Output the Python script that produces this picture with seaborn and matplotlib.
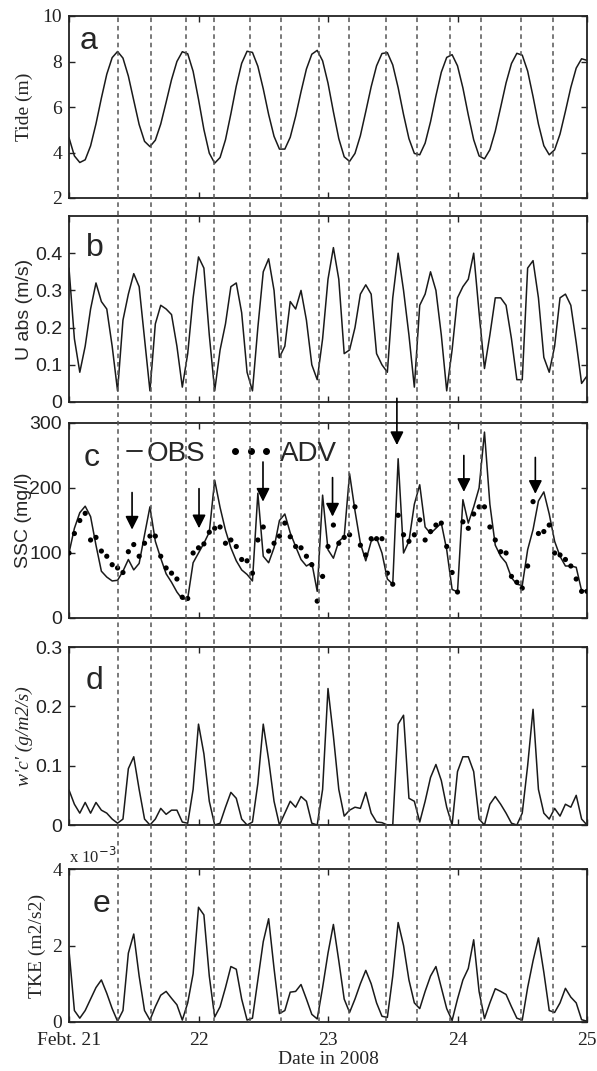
import numpy as np
import matplotlib
matplotlib.use("Agg")
import matplotlib.pyplot as plt
from matplotlib.lines import Line2D
import seaborn as sns

# ---------------- data ----------------
hours = np.arange(0, 97)  # hourly samples from Feb 21 00:00
days = 21 + hours / 24.0

tide = [4.65, 3.85, 3.56, 3.68, 4.29, 5.26, 6.39, 7.44, 8.17, 8.44,
        8.15, 7.36, 6.29, 5.23, 4.49, 4.26, 4.54, 5.25, 6.21, 7.20,
        8.00, 8.43, 8.34, 7.57, 6.34, 5.01, 3.97, 3.53, 3.78, 4.56,
        5.70, 6.92, 7.92, 8.45, 8.40, 7.79, 6.80, 5.67, 4.71, 4.15,
        4.15, 4.67, 5.59, 6.67, 7.67, 8.32, 8.49, 8.03, 7.05, 5.79,
        4.61, 3.81, 3.61, 3.96, 4.74, 5.80, 6.89, 7.81, 8.35, 8.39,
        7.85, 6.85, 5.67, 4.61, 3.96, 3.90, 4.41, 5.35, 6.49, 7.53,
        8.18, 8.30, 7.81, 6.84, 5.65, 4.56, 3.85, 3.72, 4.12, 4.94,
        5.99, 7.06, 7.91, 8.36, 8.28, 7.58, 6.46, 5.25, 4.30, 3.90,
        4.12, 4.81, 5.81, 6.86, 7.71, 8.12, 8.05]

uabs = [0.36, 0.17, 0.08, 0.15, 0.25, 0.32, 0.27, 0.25, 0.15, 0.03,
        0.22, 0.29, 0.345, 0.31, 0.17, 0.03, 0.21, 0.26, 0.25, 0.235,
        0.15, 0.04, 0.13, 0.28, 0.39, 0.36, 0.18, 0.03, 0.14, 0.21,
        0.31, 0.32, 0.24, 0.08, 0.03, 0.20, 0.35, 0.385, 0.30, 0.12,
        0.15, 0.27, 0.25, 0.30, 0.22, 0.10, 0.06, 0.17, 0.33, 0.415,
        0.33, 0.13, 0.14, 0.20, 0.29, 0.315, 0.29, 0.13, 0.10, 0.08,
        0.28, 0.40, 0.30, 0.18, 0.04, 0.26, 0.29, 0.35, 0.30, 0.18,
        0.03, 0.14, 0.28, 0.31, 0.33, 0.40, 0.24, 0.09, 0.18, 0.28,
        0.28, 0.26, 0.17, 0.06, 0.06, 0.36, 0.38, 0.28, 0.12, 0.08,
        0.15, 0.28, 0.29, 0.26, 0.16, 0.05, 0.07]

ssc_obs = [100, 138, 162, 172, 156, 112, 72, 63, 57, 58,
           72, 90, 74, 84, 128, 171, 118, 92, 68, 55,
           40, 29, 30, 85, 100, 115, 132, 212, 170, 135,
           108, 88, 74, 67, 57, 192, 95, 85, 108, 150,
           160, 131, 110, 90, 80, 85, 41, 189, 105, 92,
           118, 125, 222, 165, 115, 88, 118, 123, 100, 60,
           52, 245, 100, 118, 175, 205, 140, 130, 138, 146,
           105, 44, 40, 182, 146, 171, 200, 286, 175, 112,
           95, 85, 62, 52, 50, 105, 136, 180, 194, 160,
           118, 95, 80, 80, 78, 42, 42]

ssc_adv = [100, 130, 150, 161, 120, 124, 103, 95, 82, 77,
           70, 102, 113, 95, 115, 126, 126, 95, 77, 69,
           60, 32, 30, 100, 108, 114, 132, 138, 140, 115,
           120, 110, 90, 88, 69, 120, 140, 103, 115, 126,
           146, 125, 110, 108, 95, 82, 26, 64, 110, 143,
           115, 124, 128, 171, 112, 97, 122, 122, 122, 69,
           52, 158, 128, 118, 128, 151, 120, 133, 143, 146,
           110, 70, 40, 148, 138, 160, 171, 171, 140, 120,
           102, 100, 64, 55, 46, 80, 179, 130, 133, 143,
           100, 97, 90, 80, 60, 41, 41]

wc = [0.059, 0.035, 0.02, 0.038, 0.02, 0.038, 0.025, 0.02, 0.01, 0.003,
      0.01, 0.095, 0.115, 0.06, 0.01, 0.0, 0.01, 0.028, 0.018, 0.025,
      0.025, 0.005, 0.003, 0.06, 0.17, 0.12, 0.04, 0.0, 0.003, 0.03,
      0.055, 0.045, 0.01, 0.0, 0.005, 0.07, 0.17, 0.11, 0.04, 0.0,
      0.02, 0.04, 0.03, 0.048, 0.04, 0.003, 0.0, 0.06, 0.23, 0.15,
      0.06, 0.015, 0.025, 0.03, 0.028, 0.055, 0.02, 0.005, 0.004, 0.0,
      0.0, 0.17, 0.185, 0.045, 0.04, 0.005, 0.04, 0.08, 0.102, 0.075,
      0.03, 0.0, 0.09, 0.115, 0.115, 0.09, 0.01, 0.0, 0.035, 0.048,
      0.035, 0.02, 0.003, 0.0, 0.02, 0.10, 0.195, 0.06, 0.02, 0.01,
      0.028, 0.015, 0.035, 0.03, 0.05, 0.01, 0.0]

tke = [1.87, 0.3, 0.1, 0.3, 0.6, 0.9, 1.1, 0.75, 0.35, 0.02,
       0.3, 1.8, 2.3, 1.2, 0.3, 0.05, 0.4, 0.7, 0.8, 0.62,
       0.45, 0.05, 0.5, 1.26, 3.0, 2.8, 1.2, 0.13, 0.4, 0.9,
       1.45, 1.38, 0.6, 0.05, 0.1, 1.1, 2.1, 2.7, 1.4, 0.22,
       0.3, 0.78, 0.8, 0.98, 0.6, 0.2, 0.08, 0.9, 1.8, 2.55,
       1.6, 0.6, 0.25, 0.6, 1.0, 1.35, 1.0, 0.5, 0.15, 0.12,
       1.2, 2.6, 2.0, 1.1, 0.5, 0.35, 0.8, 1.2, 1.45, 0.9,
       0.35, 0.04, 0.6, 1.1, 1.4, 2.15, 0.8, 0.09, 0.5, 0.87,
       0.8, 0.72, 0.4, 0.1, 0.05, 0.9, 1.6, 2.2, 1.3, 0.3,
       0.25, 0.5, 0.88, 0.65, 0.5, 0.06, 0.02]  # x 10^-3

# high / low water times (dashed lines)
event_days = [21.382, 21.630, 21.905, 22.118, 22.398, 22.634, 22.928,
              23.160, 23.445, 23.686, 23.945, 24.183, 24.491, 24.735]

# arrows in panel c
arrow_days = [21.487, 22.004, 22.498, 23.035, 23.532, 24.049, 24.601]
arrow_tail = [193, 199, 240, 216, 338, 250, 247]
arrow_head = [136, 138, 179, 156, 266, 194, 191]

xtick_vals = [21, 22, 23, 24, 25]
xtick_labels = ["Febt. 21", "22", "23", "24", "25"]

panel_letters = ["a", "b", "c", "d", "e"]
ylabels = ["Tide (m)", "U abs (m/s)", "SSC (mg/l)", "w'c' (g/m2/s)", "TKE (m2/s2)"]
yticks = [[2, 4, 6, 8, 10], [0, 0.1, 0.2, 0.3, 0.4], [0, 100, 200, 300],
          [0, 0.1, 0.2, 0.3], [0, 2, 4]]
ytick_labels = [["2", "4", "6", "8", "10"], ["0", "0.1", "0.2", "0.3", "0.4"],
                ["0", "100", "200", "300"], ["0", "0.1", "0.2", "0.3"], ["0", "2", "4"]]
ylims = [(2, 10), (0, 0.5), (0, 300), (0, 0.3), (0, 4)]

# ---------------- style ----------------
sns.set_theme(style="ticks")
SERIF = "Liberation Serif"
SANS = "Liberation Sans"
plt.rcParams["font.family"] = [SERIF, "DejaVu Serif"]

W, H = 597, 1071
fig = plt.figure(figsize=(W / 100, H / 100), dpi=100)
fig.patch.set_facecolor("white")

left = 69 / W
width = 518 / W
panel_px = [(16, 198), (216, 402), (423, 618), (647, 825), (869, 1022)]

axes = []
for (top, bot) in panel_px:
    ax = fig.add_axes([left, 1 - bot / H, width, (bot - top) / H])
    axes.append(ax)

series = [tide, uabs, ssc_obs, wc, tke]
tick_fonts = [SERIF, SANS, SANS, SANS, SERIF]
label_fonts = [SERIF, SANS, SANS, SERIF, SERIF]
label_x = [-0.070, -0.069, -0.072, -0.069, -0.045]
letter_pos = [(0.020, 0.818), (0.033, 0.786), (0.029, 0.782), (0.033, 0.764), (0.046, 0.717)]

for i, ax in enumerate(axes):
    sns.lineplot(x=days, y=series[i], ax=ax, color="#1a1a1a", lw=1.1, estimator=None)
    ax.set_xlim(21, 25)
    ax.set_ylim(*ylims[i])
    ax.set_yticks(yticks[i])
    ax.set_yticklabels(ytick_labels[i], fontfamily=tick_fonts[i], fontsize=14)
    ax.set_xticks(xtick_vals)
    if i == 4:
        ax.set_xticklabels(xtick_labels, fontfamily=SERIF, fontsize=14)
        ax.set_xlabel("Date in 2008", fontfamily=SERIF, fontsize=14, labelpad=2)
    else:
        ax.set_xticklabels([])
        ax.set_xlabel("")
    ax.tick_params(direction="in", top=True, right=True, length=4, width=1.0,
                   colors="#222222", pad=5)
    ax.tick_params(axis="x", pad=7)
    for sp in ax.spines.values():
        sp.set_linewidth(1.3)
        sp.set_color("#222222")
    ax.set_ylabel(ylabels[i], fontfamily=label_fonts[i], fontsize=14,
                  fontstyle="italic" if i == 3 else "normal")
    ax.yaxis.set_label_coords(label_x[i], 0.5)
    lx, ly = letter_pos[i]
    ax.text(lx, ly, panel_letters[i], transform=ax.transAxes, fontfamily=SANS,
            fontsize=23, ha="left", va="baseline")

# ADV dots
axc = axes[2]
sns.scatterplot(x=days, y=ssc_adv, ax=axc, color="black", s=14, edgecolor="none",
                marker="o", zorder=3)

# arrows
for xd, yt, yh in zip(arrow_days, arrow_tail, arrow_head):
    axc.annotate("", xy=(xd, yh), xytext=(xd, yt), annotation_clip=False,
                 arrowprops=dict(arrowstyle="-|>", color="black", lw=1.2,
                                 mutation_scale=20, shrinkA=0, shrinkB=0))

# legend: short line for OBS, three spaced dots for ADV
leg_prop = {"family": SANS, "size": 20}
h_obs = Line2D([0], [0], color="#1a1a1a", lw=1.3)
h_adv = Line2D([0], [0], color="black", lw=0, marker="o", markersize=4)
leg1 = axc.legend([h_obs], ["OBS"], loc="lower left", bbox_to_anchor=(0.112, 0.775),
                  frameon=False, handlelength=0.55, handletextpad=0.15,
                  borderpad=0, borderaxespad=0, prop=leg_prop)
axc.add_artist(leg1)
axc.legend([h_adv], ["ADV"], loc="lower left", bbox_to_anchor=(0.305, 0.775),
           frameon=False, handlelength=1.7, handletextpad=0.2, numpoints=3,
           borderpad=0, borderaxespad=0, prop=leg_prop)

# multiplier label for TKE
axes[4].text(0.0, 1.015, r"x 10$^{-3}$", transform=axes[4].transAxes,
             fontfamily=SERIF, fontsize=12, ha="left", va="bottom")

# dashed event lines spanning all panels
top_px, bot_px = panel_px[0][0], panel_px[-1][1]
ov = fig.add_axes([left, 1 - bot_px / H, width, (bot_px - top_px) / H], zorder=10)
ov.set_xlim(21, 25)
ov.set_ylim(0, 1)
ov.axis("off")
ov.patch.set_alpha(0)
ov.vlines(event_days, 0, 1, colors="#555555", linestyles=(0, (3.0, 2.5)), lw=1.1)

fig.savefig("out.png", dpi=100, facecolor="white")
